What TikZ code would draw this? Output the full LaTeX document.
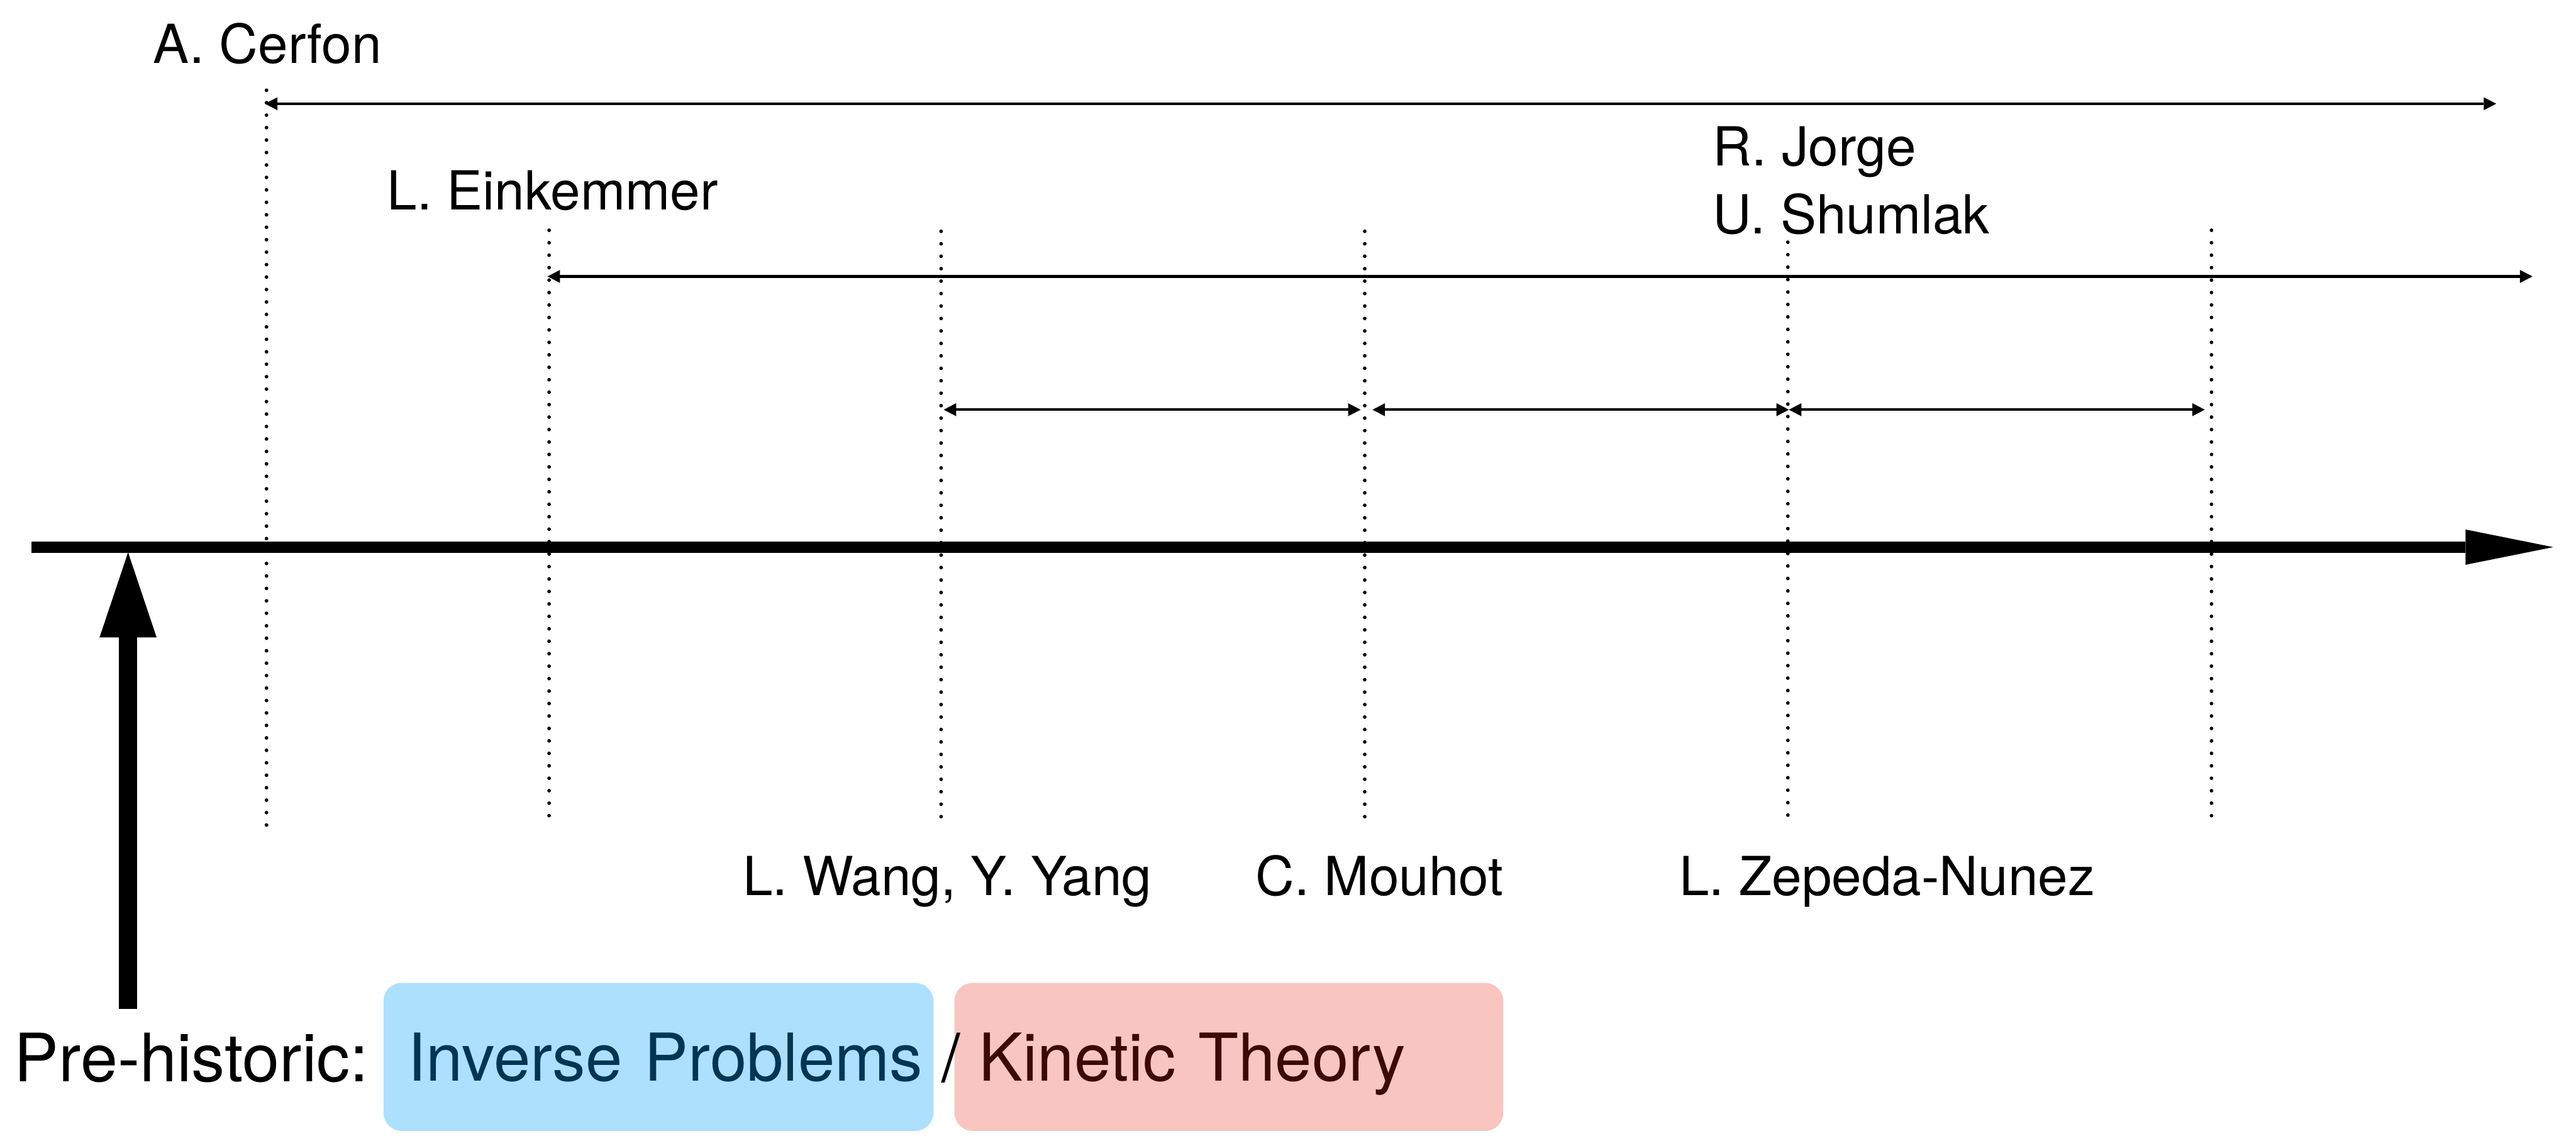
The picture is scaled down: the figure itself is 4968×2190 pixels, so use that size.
\documentclass[tikz,border=0pt]{standalone}
\usepackage{fontspec}
\setmainfont{TeX Gyre Heros}
\usetikzlibrary{arrows.meta}
\definecolor{ipfill}{HTML}{ADE0FD}
\definecolor{iptext}{HTML}{003554}
\definecolor{ktfill}{HTML}{F8C5C0}
\definecolor{kttext}{HTML}{3E0804}
\begin{document}
\begin{tikzpicture}[x=0.01cm,y=-0.01cm,
  namelabel/.style={font=\fontsize{29.5pt}{35pt}\selectfont, inner sep=0pt, anchor=base west},
  biglabel/.style={font=\fontsize{36.6pt}{43pt}\selectfont, inner sep=0pt, anchor=base west},
  guide/.style={line width=0.07cm, dash pattern=on 0pt off 0.24cm, line cap=round},
  span/.style={line width=0.05cm, {Triangle[length=0.24cm,width=0.25cm,line width=0pt]}-{Triangle[length=0.24cm,width=0.25cm,line width=0pt]}},
  fieldbox/.style={font=\fontsize{36.2pt}{43pt}\selectfont, rounded corners=0.35cm, minimum height=2.85cm, inner xsep=0.47cm, inner ysep=0pt, text height=0.92cm, text depth=0pt, align=left},
]
\useasboundingbox (0,0) rectangle (4968,2190);

% guide lines
\coordinate (g1t) at (514,174);  \coordinate (g1b) at (514,1596);
\coordinate (g2t) at (1059,444); \coordinate (g2b) at (1059,1596);
\coordinate (g3t) at (1815,446); \coordinate (g3b) at (1815,1578);
\coordinate (g4t) at (2632,446); \coordinate (g4b) at (2632,1578);
\coordinate (g5t) at (3448,467); \coordinate (g5b) at (3448,1578);
\coordinate (g6t) at (4265,444); \coordinate (g6b) at (4265,1578);
\foreach \i in {1,...,6} {\draw[guide] (g\i t) -- (g\i b);}

% span arrows
\coordinate (s1a) at (511,200);  \coordinate (s1b) at (4814,200);
\coordinate (s2a) at (1056,533); \coordinate (s2b) at (4884,533);
\coordinate (s3a) at (1820,790); \coordinate (s3b) at (2624,790);
\coordinate (s4a) at (2647,790); \coordinate (s4b) at (3450,790);
\coordinate (s5a) at (3450,790); \coordinate (s5b) at (4252,790);
\foreach \i in {1,...,5} {\draw[span] (s\i a) -- (s\i b);}

% time axis
\coordinate (axL) at (61,1055); \coordinate (axR) at (4924,1055);
\draw[line width=0.21cm, -{Triangle[length=1.69cm,width=0.68cm,line width=0pt]}] (axL) -- (axR);

% up arrow
\coordinate (upB) at (247,1945); \coordinate (upT) at (247,1065);
\draw[line width=0.36cm, -{Triangle[length=1.64cm,width=1.10cm,line width=0pt]}] (upB) -- (upT);

% names
\node[namelabel] (cerfon) at (295,122) {A. Cerfon};
\node[namelabel] (eink) at (746,404) {L. Einkemmer};
\node[namelabel] (jorge) at (3303,319) {R. Jorge};
\node[namelabel] (shumlak) at (3303,451) {U. Shumlak};
\node[namelabel] (wang) at (1432,1726) {L. Wang, Y. Yang};
\node[namelabel] (mouhot) at (2421,1726) {C. Mouhot};
\node[namelabel] (zepeda) at (3238,1726) {L. Zepeda-Nunez};

% bottom row
\node[biglabel] (pre) at (27,2086) {Pre-historic:};
\node[fieldbox, fill=ipfill, text=iptext, text width=9.66cm] (ip) at (1270,2038) {\mbox{Inverse Problems}};
\node[fieldbox, fill=ktfill, text=kttext, text width=9.64cm] (kt) at (2370,2038) {\mbox{Kinetic Theory}};
\node[biglabel, anchor=base] (slash) at (1834,2086) {/};
\end{tikzpicture}
\end{document}
